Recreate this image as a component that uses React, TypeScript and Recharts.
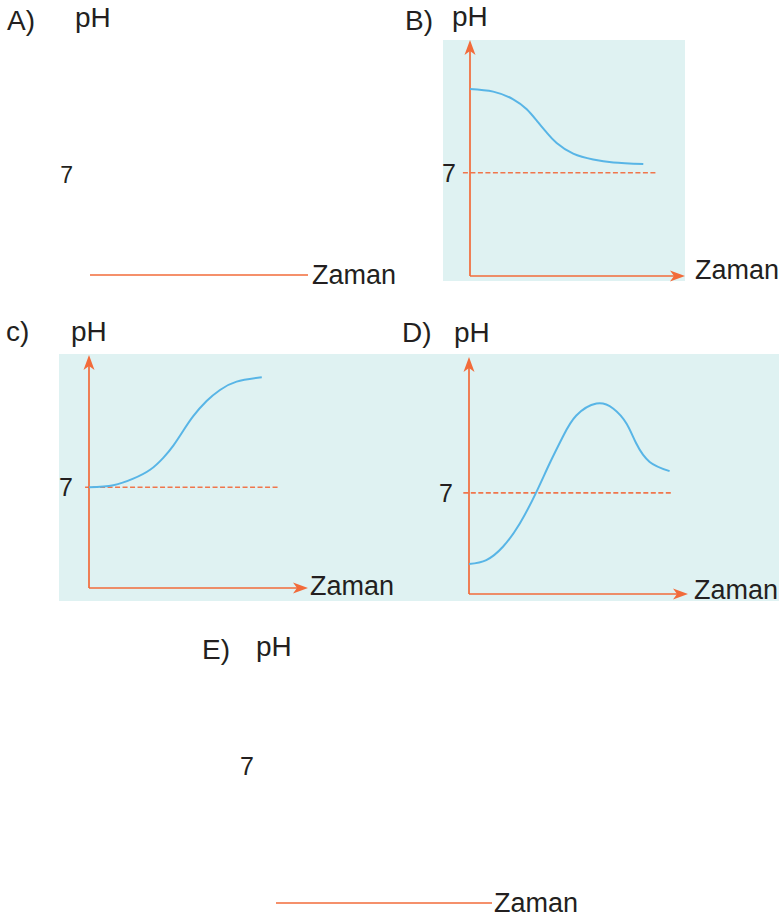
import React from 'react';
import { LineChart, Line, XAxis, YAxis, ReferenceLine } from 'recharts';

// ---------- data ----------
const panelLetters = ['A)', 'B)', 'c)', 'D)', 'E)'];
const phLabel = 'pH';
const timeLabel = 'Zaman';
const neutralPH = 7;
const timeMax = 10;

const phMaxA = 16;
const phMaxB = 16;
const phMaxC = 16.2;
const phMaxD = 16.4;
const phMaxE = 12;

const timeB = [0, 1.08, 2.01, 2.64, 3.12, 3.57, 4.03, 4.8, 5.73, 6.67, 8.06];
const phB = [12.68, 12.5, 11.98, 11.3, 10.5, 9.72, 9.02, 8.3, 7.9, 7.7, 7.59];

const timeC = [0, 1.11, 2.02, 2.79, 3.39, 3.85, 4.31, 4.76, 5.37, 5.98, 6.74, 7.89];
const phC = [7.0, 7.15, 7.6, 8.22, 9.05, 9.9, 10.95, 11.95, 13.0, 13.77, 14.35, 14.65];

const timeD = [0, 0.79, 1.55, 2.32, 3.08, 3.68, 4.29, 4.9, 5.82, 6.58, 7.19, 7.64, 8.25, 9.16];
const phD = [2.07, 2.35, 3.27, 4.88, 7.07, 9.03, 10.9, 12.35, 13.18, 12.84, 11.8, 10.41, 9.14, 8.5];

const neutralRangeB = [-0.33, 8.74];
const neutralRangeC = [-0.18, 8.63];
const neutralRangeD = [-0.26, 9.33];

const toRows = (t: number[], v: number[]) => t.map((x, i) => ({ t: x, v: v[i] }));

// ---------- styles ----------
const FONT = '"Liberation Sans", Arial, Helvetica, sans-serif';
const ORANGE = '#f26b3a';
const DASH = '#f0764c';
const BLUE = '#58b5e6';
const TEXT = '#231f20';
const BG = '#dff2f2';

const ArrowLine = (props: any) => {
  const { x1, y1, x2, y2 } = props;
  const dx = x2 - x1;
  const dy = y2 - y1;
  const len = Math.hypot(dx, dy) || 1;
  const ux = dx / len;
  const uy = dy / len;
  const px = -uy;
  const py = ux;
  const L = 15;
  const W = 5.5;
  const N = 11;
  const bx = x2 - ux * L;
  const by = y2 - uy * L;
  const nx = x2 - ux * N;
  const ny = y2 - uy * N;
  const pts = `${x2},${y2} ${bx + px * W},${by + py * W} ${nx},${ny} ${bx - px * W},${by - py * W}`;
  return (
    <g>
      <line x1={x1} y1={y1} x2={nx} y2={ny} stroke={ORANGE} strokeWidth={1.7} />
      <polygon points={pts} fill={ORANGE} />
    </g>
  );
};

type PanelProps = {
  left: number;
  right: number;
  top: number;
  bottom: number;
  phMax: number;
  tickGap: number;
  tickSize: number;
  rows?: { t: number; v: number }[];
  neutral?: number[];
  arrows: boolean;
};

const YW = 40;
const M = 10;

function Panel({ left, right, top, bottom, phMax, tickGap, tickSize, rows, neutral, arrows }: PanelProps) {
  const w = right - left;
  const h = bottom - top;
  return (
    <div style={{ position: 'absolute', left: left - YW, top: top - M }}>
      <LineChart
        width={YW + w + M}
        height={h + 2 * M}
        data={rows || []}
        margin={{ top: M, right: M, bottom: M, left: 0 }}
      >
        <XAxis dataKey="t" type="number" domain={[0, timeMax]} hide allowDataOverflow />
        <YAxis
          type="number"
          domain={[0, phMax]}
          ticks={[neutralPH]}
          interval={0}
          width={YW}
          axisLine={false}
          tickLine={false}
          tickSize={0}
          tickMargin={tickGap}
          allowDataOverflow
          tick={{ fill: TEXT, fontSize: tickSize, fontFamily: FONT }}
        />
        {neutral && (
          <ReferenceLine
            segment={[{ x: neutral[0], y: neutralPH }, { x: neutral[1], y: neutralPH }]}
            stroke={DASH}
            strokeWidth={1.6}
            strokeDasharray="5 2.5"
            ifOverflow="visible"
          />
        )}
        {arrows ? (
          <ReferenceLine
            segment={[{ x: 0, y: 0 }, { x: 0, y: phMax }]}
            ifOverflow="visible"
            shape={ArrowLine}
          />
        ) : null}
        {arrows ? (
          <ReferenceLine
            segment={[{ x: 0, y: 0 }, { x: timeMax, y: 0 }]}
            ifOverflow="visible"
            shape={ArrowLine}
          />
        ) : (
          <ReferenceLine
            segment={[{ x: 0, y: 0 }, { x: timeMax, y: 0 }]}
            ifOverflow="visible"
            stroke={ORANGE}
            strokeWidth={1.7}
          />
        )}
        {rows && (
          <Line
            type="natural"
            dataKey="v"
            stroke={BLUE}
            strokeWidth={2}
            dot={false}
            activeDot={false}
            isAnimationActive={false}
          />
        )}
      </LineChart>
    </div>
  );
}

function Txt({ x, base, text, size = 28 }: { x: number; base: number; text: string; size?: number }) {
  return (
    <div
      style={{
        position: 'absolute',
        left: x,
        top: base - 0.8465 * size,
        fontSize: size,
        lineHeight: 1,
        fontFamily: FONT,
        color: TEXT,
        whiteSpace: 'nowrap',
      }}
    >
      {text}
    </div>
  );
}

const ZS = 27;

export default function App() {
  return (
    <div
      style={{
        position: 'absolute',
        left: 0,
        top: 0,
        width: 779,
        height: 920,
        overflow: 'hidden',
        background: '#ffffff',
        fontFamily: FONT,
      }}
    >
      {/* backgrounds */}
      <div style={{ position: 'absolute', left: 443, top: 40, width: 242, height: 241, background: BG }} />
      <div style={{ position: 'absolute', left: 59, top: 354, width: 720, height: 247, background: BG }} />

      {/* A */}
      <Panel left={90} right={308} top={46} bottom={275} phMax={phMaxA} tickGap={17} tickSize={23} arrows={false} />
      <Txt x={7} base={31} text={panelLetters[0]} />
      <Txt x={75} base={28} text={phLabel} />
      <Txt x={312} base={285} text={timeLabel} size={ZS} />

      {/* B */}
      <Panel
        left={470}
        right={685}
        top={40}
        bottom={276}
        phMax={phMaxB}
        tickGap={14}
        tickSize={25}
        rows={toRows(timeB, phB)}
        neutral={neutralRangeB}
        arrows
      />
      <Txt x={405} base={31} text={panelLetters[1]} />
      <Txt x={452} base={27} text={phLabel} />
      <Txt x={695} base={280} text={timeLabel} size={ZS} />

      {/* C */}
      <Panel
        left={89}
        right={308}
        top={355}
        bottom={588}
        phMax={phMaxC}
        tickGap={16}
        tickSize={25}
        rows={toRows(timeC, phC)}
        neutral={neutralRangeC}
        arrows
      />
      <Txt x={6} base={342} text={panelLetters[2]} />
      <Txt x={71} base={342} text={phLabel} />
      <Txt x={310} base={596} text={timeLabel} size={ZS} />

      {/* D */}
      <Panel
        left={469}
        right={688}
        top={357}
        bottom={594}
        phMax={phMaxD}
        tickGap={16}
        tickSize={25}
        rows={toRows(timeD, phD)}
        neutral={neutralRangeD}
        arrows
      />
      <Txt x={402} base={343} text={panelLetters[3]} />
      <Txt x={454} base={343} text={phLabel} />
      <Txt x={694} base={600} text={timeLabel} size={ZS} />

      {/* E */}
      <Panel left={276} right={492} top={668} bottom={903} phMax={phMaxE} tickGap={22} tickSize={25} arrows={false} />
      <Txt x={202} base={660} text={panelLetters[4]} />
      <Txt x={256} base={657} text={phLabel} />
      <Txt x={494} base={913} text={timeLabel} size={ZS} />
    </div>
  );
}
